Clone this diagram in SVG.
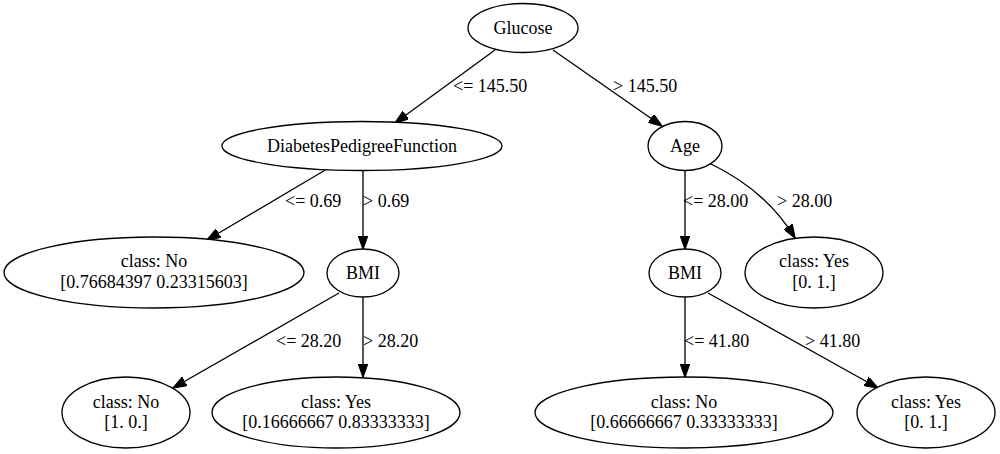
<svg xmlns="http://www.w3.org/2000/svg" width="1000" height="454" viewBox="0 0 1000 454" font-family="'Liberation Serif', Tinos, 'Times New Roman', serif">
<defs>
<style>
.n ellipse{fill:#fff;stroke:#000;stroke-width:1.33}
text{font-family:"Liberation Serif",Tinos,"Times New Roman",serif;font-size:18px;fill:#000}
.n text{text-anchor:middle}
.e path{fill:none;stroke:#000;stroke-width:1.33;marker-end:url(#arr)}
</style>
<marker id="arr" markerUnits="userSpaceOnUse" markerWidth="14" markerHeight="10" viewBox="0 0 14 10" refX="13.5" refY="5" orient="auto">
<path d="M0,0 L14,5 L0,10 z" fill="#000" stroke="#000" stroke-width="1"/>
</marker>
</defs>
<rect width="1000" height="454" fill="#fff"/>
<g id="edges" class="e">
<path d="M495,50 L395,123"/>
<path d="M553,50 L662,126"/>
<path d="M327,169 L207,240"/>
<path d="M363,170 L363,249"/>
<path d="M685,170 L685,249"/>
<path d="M709,163 C745,180 775,205 795,238"/>
<path d="M339,293 L173,388"/>
<path d="M363,297 L363,377"/>
<path d="M685,297 L685,377"/>
<path d="M708,293 L878,388"/>
<text x="453" y="92">&lt;= 145.50</text>
<text x="613" y="92">&gt; 145.50</text>
<text x="285" y="207">&lt;= 0.69</text>
<text x="363" y="207">&gt; 0.69</text>
<text x="683" y="207">&lt;= 28.00</text>
<text x="777" y="207">&gt; 28.00</text>
<text x="276" y="347">&lt;= 28.20</text>
<text x="363" y="347">&gt; 28.20</text>
<text x="684" y="347">&lt;= 41.80</text>
<text x="805" y="347">&gt; 41.80</text>
</g>
<g id="n0" class="n"><ellipse cx="523" cy="28" rx="55" ry="24.5"/><text x="523" y="34">Glucose</text></g>
<g id="n1" class="n"><ellipse cx="362" cy="146" rx="140" ry="24.5"/><text x="362" y="152">DiabetesPedigreeFunction</text></g>
<g id="n2" class="n"><ellipse cx="685" cy="146" rx="37" ry="24.5"/><text x="685" y="152">Age</text></g>
<g id="n3" class="n"><ellipse cx="154" cy="272.5" rx="150" ry="35.5"/><text x="154" y="267">class: No</text><text x="154" y="288">[0.76684397 0.23315603]</text></g>
<g id="n4" class="n"><ellipse cx="363" cy="273" rx="36" ry="24"/><text x="363" y="279">BMI</text></g>
<g id="n5" class="n"><ellipse cx="685" cy="273" rx="36" ry="24"/><text x="685" y="279">BMI</text></g>
<g id="n6" class="n"><ellipse cx="814" cy="272.5" rx="69" ry="35.5"/><text x="814" y="267">class: Yes</text><text x="814" y="288">[0. 1.]</text></g>
<g id="n7" class="n"><ellipse cx="126" cy="412.5" rx="64" ry="35.5"/><text x="126" y="408">class: No</text><text x="126" y="428">[1. 0.]</text></g>
<g id="n8" class="n"><ellipse cx="336" cy="412.5" rx="124" ry="35.5"/><text x="336" y="408">class: Yes</text><text x="336" y="428">[0.16666667 0.83333333]</text></g>
<g id="n9" class="n"><ellipse cx="684" cy="412.5" rx="149" ry="35.5"/><text x="684" y="408">class: No</text><text x="684" y="428">[0.66666667 0.33333333]</text></g>
<g id="n10" class="n"><ellipse cx="926" cy="412.5" rx="69" ry="35.5"/><text x="926" y="408">class: Yes</text><text x="926" y="428">[0. 1.]</text></g>
</svg>
